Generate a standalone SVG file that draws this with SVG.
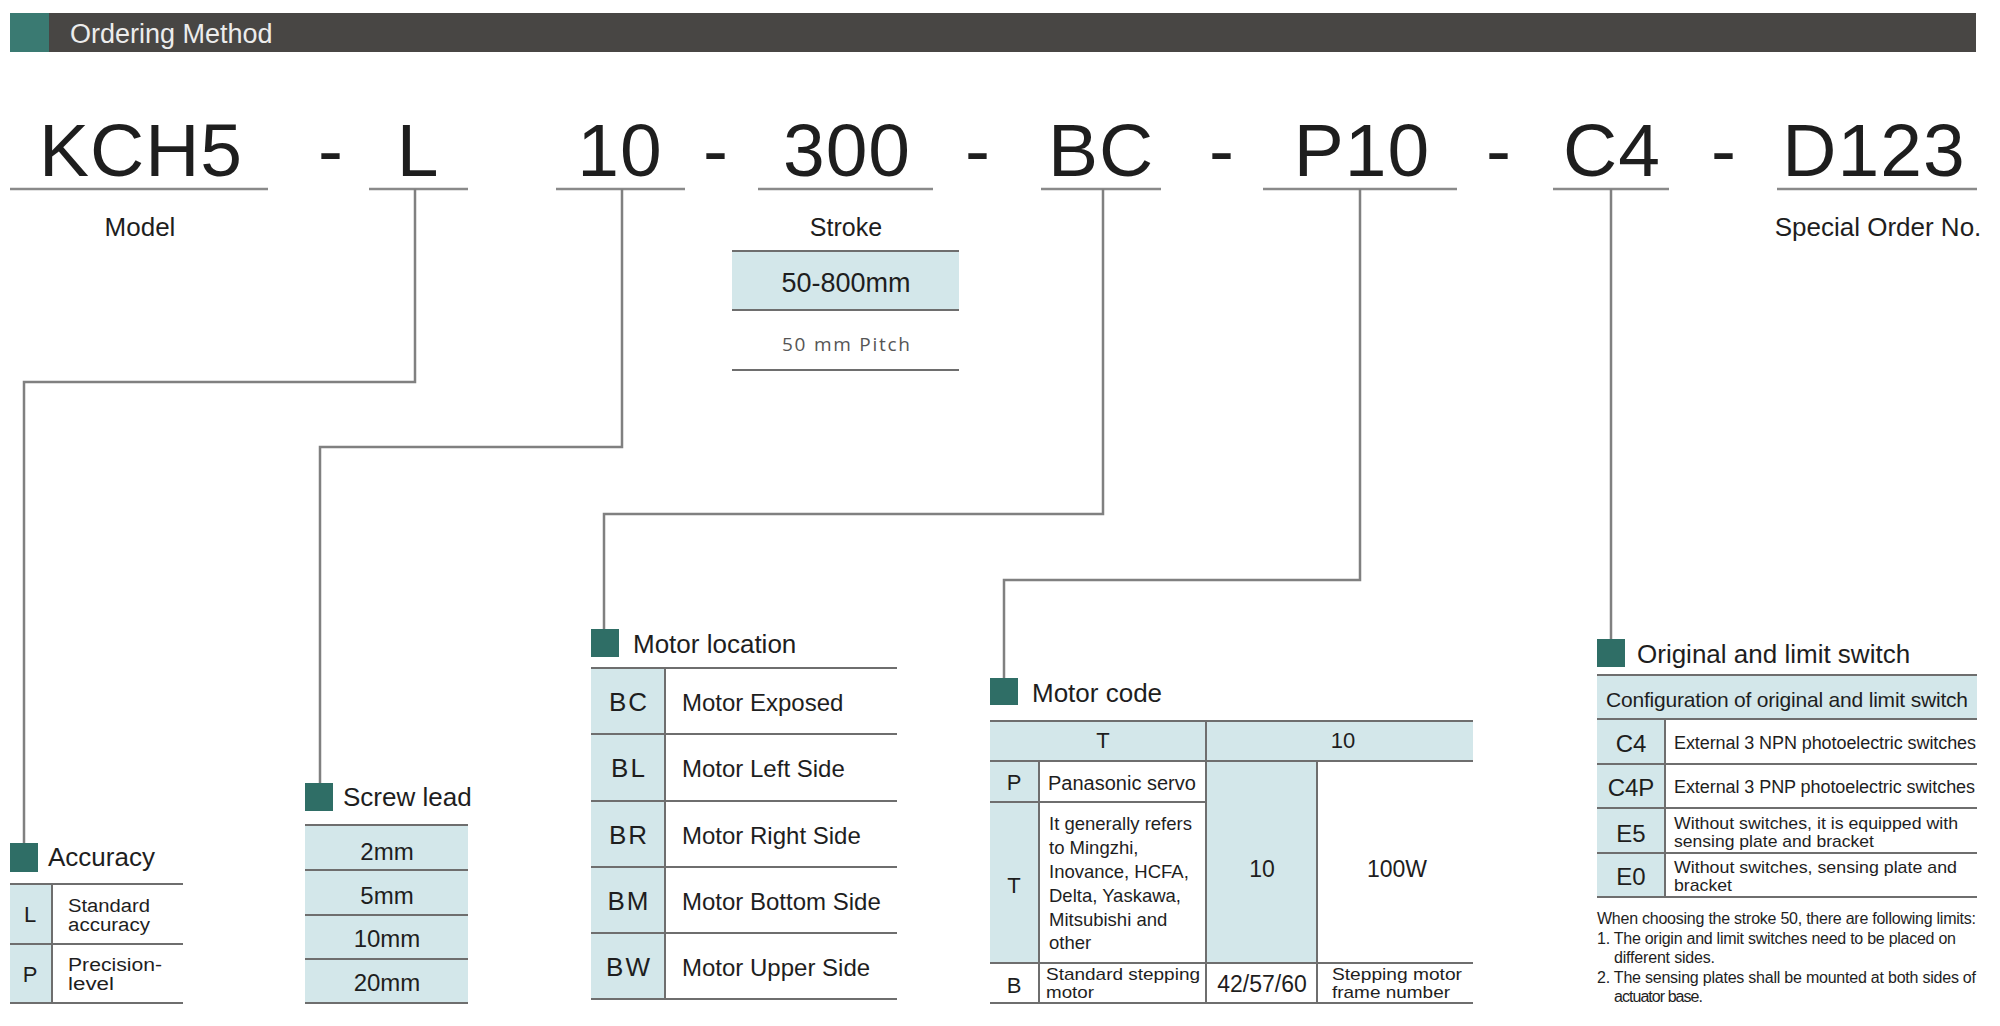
<svg xmlns="http://www.w3.org/2000/svg" width="2000" height="1026" viewBox="0 0 2000 1026">
<style>
text{font-family:"Liberation Sans",Arial,sans-serif;fill:#1e1e1e}
.code{font-size:75px;text-anchor:middle;letter-spacing:1px}
.ul{stroke:#8a8a8a;stroke-width:2.5;fill:none}
.conn{stroke:#808080;stroke-width:2.5;fill:none}
.sq{fill:#2f6e66}
.ttl{font-size:26px}
.blue{fill:#d3e7ea}
.tl{stroke:#6e6e6e;stroke-width:2;fill:none}
.c{text-anchor:middle}
.lbl{font-size:26px;text-anchor:middle}
</style>
<rect x="0" y="0" width="2000" height="1026" fill="#ffffff"/>
<g id="header">
<rect x="10" y="13" width="1966" height="39" fill="#484644"/>
<rect x="10" y="13" width="39" height="39" fill="#3a7a72"/>
<text x="70" y="43" style="font-size:27px;fill:#ececec">Ordering Method</text>
</g>
<g id="code-row">
<text class="code" x="141" y="176">KCH5</text>
<text class="code" x="331" y="176">-</text>
<text class="code" x="418" y="176">L</text>
<text class="code" x="620" y="176">10</text>
<text class="code" x="716" y="176">-</text>
<text class="code" x="847" y="176">300</text>
<text class="code" x="978" y="176">-</text>
<text class="code" x="1101" y="176">BC</text>
<text class="code" x="1222" y="176">-</text>
<text class="code" x="1362" y="176">P10</text>
<text class="code" x="1499" y="176">-</text>
<text class="code" x="1612" y="176">C4</text>
<text class="code" x="1724" y="176">-</text>
<text class="code" x="1874" y="176">D123</text>
<line class="ul" x1="10" y1="189" x2="268" y2="189"/>
<line class="ul" x1="369" y1="189" x2="468" y2="189"/>
<line class="ul" x1="556" y1="189" x2="685" y2="189"/>
<line class="ul" x1="758" y1="189" x2="933" y2="189"/>
<line class="ul" x1="1041" y1="189" x2="1161" y2="189"/>
<line class="ul" x1="1263" y1="189" x2="1457" y2="189"/>
<line class="ul" x1="1553" y1="189" x2="1669" y2="189"/>
<line class="ul" x1="1777" y1="189" x2="1977" y2="189"/>
<text class="lbl" x="140" y="236">Model</text>
<text class="lbl" x="1878" y="236">Special Order No.</text>
</g>
<g id="stroke">
<text class="c" x="846" y="236" style="font-size:25px">Stroke</text>
<rect class="blue" x="732" y="251" width="227" height="59"/>
<line class="tl" x1="732" y1="251" x2="959" y2="251"/>
<line class="tl" x1="732" y1="310" x2="959" y2="310"/>
<line class="tl" x1="732" y1="370" x2="959" y2="370"/>
<text class="c" x="846" y="292" style="font-size:27px">50-800mm</text>
<text x="782" y="351" textLength="128" style="font-family:'Open Sans','DejaVu Sans',sans-serif;font-size:19px;fill:#555">50 mm Pitch</text>
</g>
<g id="connectors">
<polyline class="conn" points="415,189 415,382 24,382 24,843"/>
<polyline class="conn" points="622,189 622,447 320,447 320,783"/>
<polyline class="conn" points="1103,189 1103,514 604,514 604,629"/>
<polyline class="conn" points="1360,189 1360,580 1004,580 1004,678"/>
<polyline class="conn" points="1611,189 1611,639"/>
</g>
<g id="accuracy">
<rect class="sq" x="10" y="843" width="28" height="29"/>
<text class="ttl" x="48" y="866">Accuracy</text>
<rect class="blue" x="10" y="884" width="42" height="119"/>
<line class="tl" x1="10" y1="884" x2="183" y2="884"/>
<line class="tl" x1="10" y1="944" x2="183" y2="944"/>
<line class="tl" x1="10" y1="1003" x2="183" y2="1003"/>
<line class="tl" x1="52" y1="884" x2="52" y2="1003"/>
<text class="c" x="30" y="922" style="font-size:22px">L</text>
<text class="c" x="30" y="982" style="font-size:22px">P</text>
<g style="font-size:18px">
<text x="68" y="912" textLength="82" lengthAdjust="spacingAndGlyphs">Standard</text>
<text x="68" y="931" textLength="82" lengthAdjust="spacingAndGlyphs">accuracy</text>
<text x="68" y="971" textLength="94" lengthAdjust="spacingAndGlyphs">Precision-</text>
<text x="68" y="990" textLength="46" lengthAdjust="spacingAndGlyphs">level</text>
</g>
</g>
<g id="screw-lead">
<rect class="sq" x="305" y="783" width="28" height="28"/>
<text class="ttl" x="343" y="806">Screw lead</text>
<rect class="blue" x="305" y="825" width="163" height="178"/>
<line class="tl" x1="305" y1="825" x2="468" y2="825"/>
<line class="tl" x1="305" y1="870" x2="468" y2="870"/>
<line class="tl" x1="305" y1="915" x2="468" y2="915"/>
<line class="tl" x1="305" y1="959" x2="468" y2="959"/>
<line class="tl" x1="305" y1="1003" x2="468" y2="1003"/>
<text class="c" x="387" y="860" style="font-size:24px">2mm</text>
<text class="c" x="387" y="904" style="font-size:24px">5mm</text>
<text class="c" x="387" y="947" style="font-size:24px">10mm</text>
<text class="c" x="387" y="991" style="font-size:24px">20mm</text>
</g>
<g id="motor-location">
<rect class="sq" x="591" y="629" width="28" height="28"/>
<text class="ttl" x="633" y="653">Motor location</text>
<rect class="blue" x="591" y="668" width="74" height="331"/>
<line class="tl" x1="591" y1="668" x2="897" y2="668"/>
<line class="tl" x1="591" y1="734" x2="897" y2="734"/>
<line class="tl" x1="591" y1="801" x2="897" y2="801"/>
<line class="tl" x1="591" y1="867" x2="897" y2="867"/>
<line class="tl" x1="591" y1="933" x2="897" y2="933"/>
<line class="tl" x1="591" y1="999" x2="897" y2="999"/>
<line class="tl" x1="665" y1="668" x2="665" y2="999"/>
<g style="font-size:26px;letter-spacing:2px">
<text class="c" x="629" y="711">BC</text>
<text class="c" x="629" y="777">BL</text>
<text class="c" x="629" y="844">BR</text>
<text class="c" x="629" y="910">BM</text>
<text class="c" x="629" y="976">BW</text>
</g>
<g style="font-size:24px">
<text x="682" y="711">Motor Exposed</text>
<text x="682" y="777">Motor Left Side</text>
<text x="682" y="844">Motor Right Side</text>
<text x="682" y="910">Motor Bottom Side</text>
<text x="682" y="976">Motor Upper Side</text>
</g>
</g>
<g id="motor-code">
<rect class="sq" x="990" y="678" width="28" height="27"/>
<text class="ttl" x="1032" y="702">Motor code</text>
<rect class="blue" x="990" y="721" width="483" height="40"/>
<rect class="blue" x="990" y="761" width="49" height="202"/>
<rect class="blue" x="1206" y="761" width="111" height="202"/>
<line class="tl" x1="990" y1="721" x2="1473" y2="721"/>
<line class="tl" x1="990" y1="761" x2="1473" y2="761"/>
<line class="tl" x1="990" y1="802" x2="1206" y2="802"/>
<line class="tl" x1="990" y1="963" x2="1473" y2="963"/>
<line class="tl" x1="990" y1="1003" x2="1473" y2="1003"/>
<line class="tl" x1="1039" y1="761" x2="1039" y2="1003"/>
<line class="tl" x1="1206" y1="721" x2="1206" y2="1003"/>
<line class="tl" x1="1317" y1="761" x2="1317" y2="1003"/>
<text class="c" x="1103" y="748" style="font-size:22px">T</text>
<text class="c" x="1343" y="748" style="font-size:22px">10</text>
<text class="c" x="1014" y="790" style="font-size:22px">P</text>
<text x="1048" y="790" style="font-size:20px">Panasonic servo</text>
<text class="c" x="1014" y="893" style="font-size:22px">T</text>
<g style="font-size:18.5px">
<text x="1049" y="830">It generally refers</text>
<text x="1049" y="854">to Mingzhi,</text>
<text x="1049" y="878">Inovance, HCFA,</text>
<text x="1049" y="902">Delta, Yaskawa,</text>
<text x="1049" y="926">Mitsubishi and</text>
<text x="1049" y="949">other</text>
</g>
<text class="c" x="1262" y="877" style="font-size:23px">10</text>
<text class="c" x="1397" y="877" style="font-size:23px">100W</text>
<text class="c" x="1014" y="993" style="font-size:22px">B</text>
<g style="font-size:17px">
<text x="1046" y="980" textLength="154" lengthAdjust="spacingAndGlyphs">Standard stepping</text>
<text x="1046" y="998" textLength="48" lengthAdjust="spacingAndGlyphs">motor</text>
<text x="1332" y="980" textLength="130" lengthAdjust="spacingAndGlyphs">Stepping motor</text>
<text x="1332" y="998" textLength="118" lengthAdjust="spacingAndGlyphs">frame number</text>
</g>
<text class="c" x="1262" y="992" style="font-size:23px">42/57/60</text>
</g>
<g id="limit-switch">
<rect class="sq" x="1597" y="639" width="28" height="28"/>
<text class="ttl" x="1637" y="663">Original and limit switch</text>
<rect class="blue" x="1597" y="675" width="380" height="44"/>
<rect class="blue" x="1597" y="719" width="68" height="178"/>
<line class="tl" x1="1597" y1="675" x2="1977" y2="675"/>
<line class="tl" x1="1597" y1="719" x2="1977" y2="719"/>
<line class="tl" x1="1597" y1="764" x2="1977" y2="764"/>
<line class="tl" x1="1597" y1="808" x2="1977" y2="808"/>
<line class="tl" x1="1597" y1="853" x2="1977" y2="853"/>
<line class="tl" x1="1597" y1="897" x2="1977" y2="897"/>
<line class="tl" x1="1665" y1="719" x2="1665" y2="897"/>
<text x="1606" y="707" style="font-size:21px" textLength="362">Configuration of original and limit switch</text>
<g style="font-size:24px">
<text class="c" x="1631" y="752">C4</text>
<text class="c" x="1631" y="796">C4P</text>
<text class="c" x="1631" y="842">E5</text>
<text class="c" x="1631" y="885">E0</text>
</g>
<g style="font-size:18px">
<text x="1674" y="749" textLength="302">External 3 NPN photoelectric switches</text>
<text x="1674" y="793" textLength="301">External 3 PNP photoelectric switches</text>
</g>
<g style="font-size:17px">
<text x="1674" y="829" textLength="284" lengthAdjust="spacingAndGlyphs">Without switches, it is equipped with</text>
<text x="1674" y="847" textLength="200" lengthAdjust="spacingAndGlyphs">sensing plate and bracket</text>
<text x="1674" y="873" textLength="283" lengthAdjust="spacingAndGlyphs">Without switches, sensing plate and</text>
<text x="1674" y="891" textLength="58" lengthAdjust="spacingAndGlyphs">bracket</text>
</g>
<g style="font-size:16px">
<text x="1597" y="924" textLength="379">When choosing the stroke 50, there are following limits:</text>
<text x="1597" y="944" textLength="359">1. The origin and limit switches need to be placed on</text>
<text x="1614" y="963" textLength="101">different sides.</text>
<text x="1597" y="983" textLength="379">2. The sensing plates shall be mounted at both sides of</text>
<text x="1614" y="1002" textLength="89">actuator base.</text>
</g>
</g>
</svg>
